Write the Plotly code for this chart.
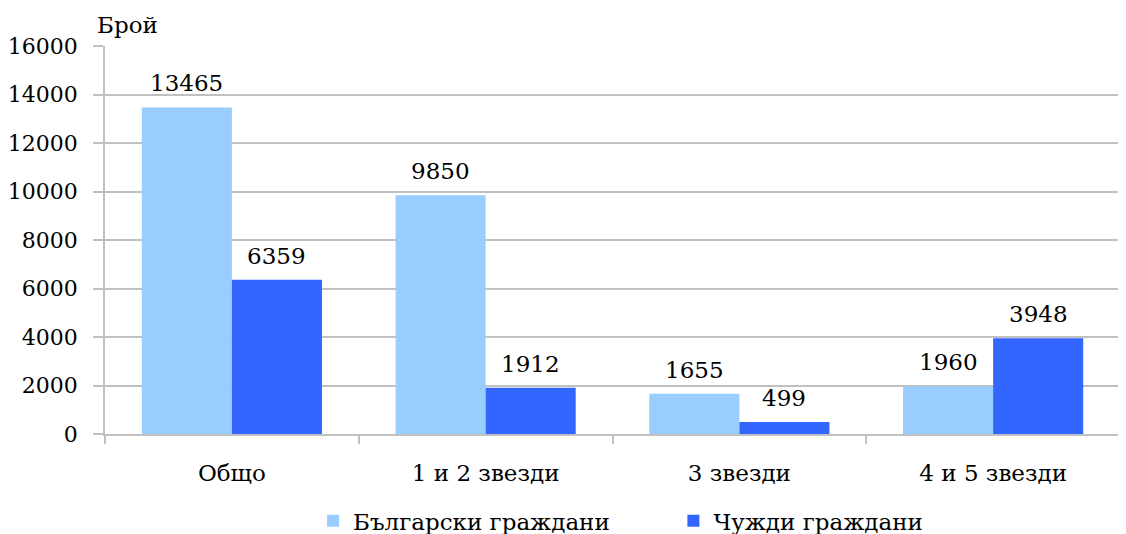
import plotly.graph_objects as go

categories = ["Общо", "1 и 2 звезди", "3 звезди", "4 и 5 звезди"]
bulgarian = [13465, 9850, 1655, 1960]
foreign = [6359, 1912, 499, 3948]
series_names = ["Български граждани", "Чужди граждани"]
y_ticks = [0, 2000, 4000, 6000, 8000, 10000, 12000, 14000, 16000]

colors = ["#99CCFF", "#3366FF"]
FONT = "DejaVu Serif"
FS = 23

fig = go.Figure()
for name, vals, col, lg in zip(series_names, [bulgarian, foreign], colors,
                               ["legend", "legend2"]):
    fig.add_trace(go.Bar(x=categories, y=vals, name=name, marker_color=col,
                         marker_line_width=0, legend=lg))

for vals, shift in [(bulgarian, -45), (foreign, 45)]:
    for c, v in zip(categories, vals):
        fig.add_annotation(x=c, y=v, text=str(v), showarrow=False,
                           xshift=shift, yshift=24, yanchor="middle",
                           font=dict(family=FONT, size=FS, color="black"))

fig.add_annotation(x=-0.01, y=1.054, xref="paper", yref="paper", text="Брой",
                   showarrow=False, xanchor="left", yanchor="middle",
                   font=dict(family=FONT, size=FS, color="black"))

leg_common = dict(orientation="h", y=-0.224, yanchor="middle", xanchor="left",
                  font=dict(family=FONT, size=FS), itemwidth=30,
                  bgcolor="rgba(0,0,0,0)")
fig.update_layout(
    width=1118, height=526,
    margin=dict(l=97, r=6, t=38, b=100, autoexpand=False),
    paper_bgcolor="white", plot_bgcolor="white",
    barmode="group", bargap=0.29, bargroupgap=0,
    font=dict(family=FONT, size=FS, color="black"),
    showlegend=True,
    legend=dict(x=0.205, **leg_common),
    legend2=dict(x=0.56, **leg_common),
)
fig.update_yaxes(range=[0, 16000], tickvals=y_ticks, tickformat="d", showgrid=True,
                 gridcolor="#c0c0c0", gridwidth=1.5, showline=True, linecolor="#c0c0c0",
                 linewidth=1.5, ticks="outside", ticklen=10, tickcolor="#c0c0c0",
                 tickwidth=1.5, zeroline=False, automargin=False, ticklabelstandoff=11,
                 tickfont=dict(family=FONT, size=22))
fig.update_xaxes(showline=True, linecolor="#c0c0c0", linewidth=1.5, ticks="outside",
                 tickson="boundaries", ticklen=8, tickcolor="#c0c0c0", tickwidth=1.5,
                 automargin=False, ticklabelstandoff=18,
                 tickfont=dict(family=FONT, size=FS))
fig.write_html("out.html")
